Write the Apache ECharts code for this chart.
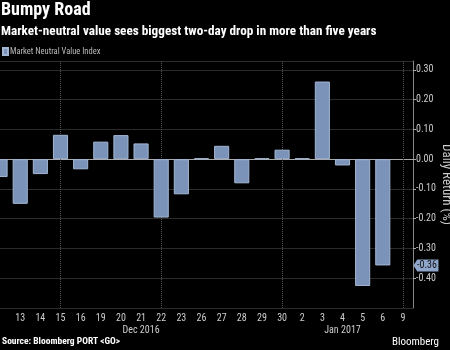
<!DOCTYPE html>
<html>
<head>
<meta charset="utf-8">
<script src="https://cdn.jsdelivr.net/npm/echarts@6/dist/echarts.min.js"></script>
<style>
  html, body { margin: 0; padding: 0; background: #000; }
  #chart { width: 450px; height: 350px; }
</style>
</head>
<body>
<div id="chart"></div>
<script>
// trading days shown on the axis (first one is cut off by the left edge)
const days = ['12', '13', '14', '15', '16', '19', '20', '21', '22', '23', '26',
    '27', '28', '29', '30', '2', '3', '4', '5', '6', '9'];
// daily return in %
const dailyReturn = [-0.06, -0.15, -0.05, 0.082, -0.034, 0.059, 0.081, 0.053, -0.196, -0.118, 0.003,
    0.045, -0.081, 0.003, 0.032, 0.003, 0.261, -0.021, -0.426, -0.357, null];
// month captions under the day labels, keyed by day index
const monthLabels = { 7: 'Dec 2016', 17: 'Jan 2017' };
// days that get a dotted vertical guide
const guideDays = ['15', '22', '30', '9'];
// day where the month changes
const monthBreak = '30';
const lastValue = -0.357;

const FONT = "'Roboto Condensed', 'Open Sans', sans-serif";

const chart = echarts.init(document.getElementById('chart'));

const option = {
    backgroundColor: '#000',
    animation: false,
    textStyle: { fontFamily: FONT },
    title: [
        {
            text: 'Bumpy Road',
            left: 1,
            top: 1,
            padding: 0,
            textStyle: { color: '#fff', fontSize: 18, fontWeight: 'bold', fontFamily: FONT }
        },
        {
            text: 'Market-neutral value sees biggest two-day drop in more than five years',
            left: 1,
            top: 25,
            padding: 0,
            textStyle: { color: '#fff', fontSize: 13.2, fontWeight: 'bold', fontFamily: FONT }
        },
        {
            text: 'Source: Bloomberg PORT <GO>',
            left: 2,
            bottom: 3,
            padding: 0,
            textStyle: { color: '#fff', fontSize: 9.5, fontWeight: 'bold', fontFamily: FONT }
        },
        {
            text: 'Bloomberg',
            right: 11,
            bottom: 2,
            padding: 0,
            textStyle: { color: '#fff', fontSize: 11, fontWeight: 'normal', fontFamily: FONT }
        }
    ],
    legend: {
        left: 2,
        top: 47,
        padding: 0,
        icon: 'rect',
        itemWidth: 5,
        itemHeight: 7,
        itemGap: 3,
        textStyle: { color: '#bbb', fontSize: 8.5, fontFamily: FONT, padding: [0, 0, 0, -3] }
    },
    grid: {
        left: -10,
        right: 37,
        top: 61,
        bottom: 42,
        outerBoundsMode: 'none'
    },
    xAxis: {
        type: 'category',
        data: days,
        axisLine: { lineStyle: { color: '#aaa' } },
        axisTick: {
            show: true,
            alignWithLabel: true,
            length: 27,
            interval: (i, v) => v === monthBreak,
            lineStyle: { color: '#555', type: 'dotted' }
        },
        axisLabel: {
            interval: 0,
            color: '#ccc',
            fontSize: 10,
            fontFamily: FONT,
            margin: 4,
            lineHeight: 12,
            formatter: (v, i) => {
                if (i === 0) return '';
                return monthLabels[i] ? v + '\n' + monthLabels[i] : v;
            }
        },
        splitLine: { show: false }
    },
    yAxis: {
        type: 'value',
        position: 'right',
        min: -0.5,
        max: 0.33,
        interval: 0.1,
        name: 'Daily Return (%)',
        nameLocation: 'middle',
        nameRotate: -90,
        nameGap: 27,
        nameMoveOverlap: false,
        nameTextStyle: { color: '#ccc', fontSize: 13, fontFamily: FONT },
        axisLine: { show: true, lineStyle: { color: '#888' } },
        axisTick: { show: true, length: 3, lineStyle: { color: '#aaa' } },
        axisLabel: {
            color: '#ccc',
            fontSize: 10,
            fontFamily: FONT,
            margin: 3,
            showMinLabel: false,
            showMaxLabel: false,
            formatter: v => v.toFixed(2)
        },
        splitLine: { lineStyle: { color: '#2b2b2b', width: 1 } }
    },
    series: [
        {
            name: 'Market Neutral Value Index',
            type: 'bar',
            data: dailyReturn,
            barCategoryGap: '25%',
            itemStyle: {
                color: '#7b93b8',
                borderColor: '#a3b7d4',
                borderWidth: 1
            },
            markLine: {
                silent: true,
                z: 1,
                symbol: 'none',
                label: { show: false },
                lineStyle: { color: '#555', type: 'dotted', width: 1 },
                data: guideDays.map(d => ({ xAxis: days.indexOf(d) }))
            },
            markPoint: {
                silent: true,
                symbol: 'path://M0,6 L4,0 L26,0 L26,12 L4,12 Z',
                symbolSize: [25, 12],
                symbolOffset: [23, 0],
                itemStyle: { color: '#8ea6c9' },
                label: {
                    show: true,
                    color: '#111',
                    fontSize: 10,
                    fontFamily: FONT,
                    offset: [1, 0],
                    formatter: () => lastValue.toFixed(2)
                },
                data: [{ coord: [days.length - 1, lastValue] }]
            }
        }
    ]
};

chart.setOption(option);
</script>
</body>
</html>
